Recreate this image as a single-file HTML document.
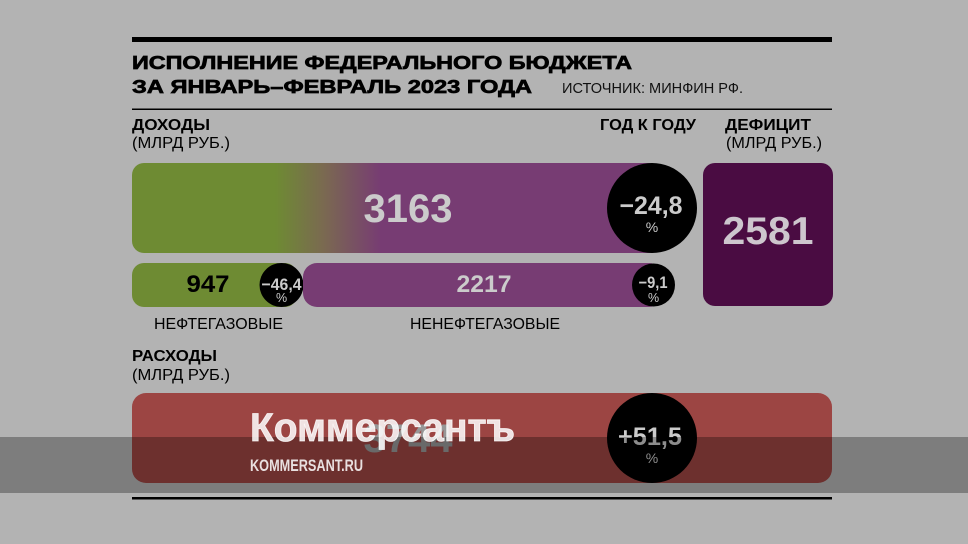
<!DOCTYPE html>
<html><head><meta charset="utf-8"><style>
html,body{margin:0;padding:0;background:#b3b3b3;}
svg{display:block;}
text{font-family:"Liberation Sans","Noto Sans CJK SC",sans-serif;}
</style></head><body>
<svg width="968" height="544" viewBox="0 0 968 544" xmlns="http://www.w3.org/2000/svg">
<defs>
<linearGradient id="g1" x1="132" y1="0" x2="662" y2="0" gradientUnits="userSpaceOnUse">
<stop offset="0" stop-color="#6e8b33"/>
<stop offset="0.27" stop-color="#6e8b33"/>
<stop offset="0.36" stop-color="#7a6a50"/>
<stop offset="0.47" stop-color="#773c73"/>
<stop offset="1" stop-color="#773c73"/>
</linearGradient>
</defs>
<rect x="0" y="0" width="968" height="544" fill="#b3b3b3"/>
<rect x="132" y="37" width="700" height="5" fill="#000"/>
<text x="132" y="69" font-size="18.5" font-weight="bold" fill="#000" stroke="#000" stroke-width="0.7" textLength="500" lengthAdjust="spacingAndGlyphs">ИСПОЛНЕНИЕ ФЕДЕРАЛЬНОГО БЮДЖЕТА</text>
<text x="132" y="93" font-size="18.5" font-weight="bold" fill="#000" stroke="#000" stroke-width="0.7" textLength="400" lengthAdjust="spacingAndGlyphs">ЗА ЯНВАРЬ–ФЕВРАЛЬ 2023 ГОДА</text>
<text x="562" y="93" font-size="14.5" fill="#111" textLength="181" lengthAdjust="spacingAndGlyphs">ИСТОЧНИК:  МИНФИН РФ.</text>
<rect x="132" y="108.5" width="700" height="1.5" fill="#000"/>

<text x="132" y="130" font-size="16" font-weight="bold" fill="#000" textLength="78" lengthAdjust="spacingAndGlyphs">ДОХОДЫ</text>
<text x="132" y="148" font-size="16" fill="#000" textLength="98" lengthAdjust="spacingAndGlyphs">(МЛРД РУБ.)</text>
<text x="600" y="130" font-size="16" font-weight="bold" fill="#000" textLength="96" lengthAdjust="spacingAndGlyphs">ГОД К ГОДУ</text>
<text x="725" y="130" font-size="16" font-weight="bold" fill="#000" textLength="86" lengthAdjust="spacingAndGlyphs">ДЕФИЦИТ</text>
<text x="726" y="148" font-size="16" fill="#000" textLength="96" lengthAdjust="spacingAndGlyphs">(МЛРД РУБ.)</text>

<rect x="132" y="163" width="530" height="90" rx="12" fill="url(#g1)"/>
<text x="408" y="222" font-size="40" font-weight="bold" fill="#cbcbcb" text-anchor="middle">3163</text>
<circle cx="652" cy="208" r="45" fill="#000"/>
<text x="651" y="214" font-size="25" font-weight="bold" fill="#cbcbcb" text-anchor="middle" textLength="63" lengthAdjust="spacingAndGlyphs">−24,8</text>
<text x="652" y="232" font-size="14" fill="#cbcbcb" text-anchor="middle">%</text>

<rect x="703" y="163" width="130" height="143" rx="12" fill="#4a0c42"/>
<text x="768" y="244" font-size="39" font-weight="bold" fill="#cdc6cd" text-anchor="middle" textLength="91" lengthAdjust="spacingAndGlyphs">2581</text>

<rect x="132" y="263" width="165" height="44" rx="12" fill="#6e8b33"/>
<text x="208" y="292" font-size="24" font-weight="bold" fill="#000" text-anchor="middle" textLength="43" lengthAdjust="spacingAndGlyphs">947</text>
<circle cx="281.5" cy="285" r="22" fill="#000"/>
<text x="281.5" y="290" font-size="17" font-weight="bold" fill="#cbcbcb" text-anchor="middle" textLength="40" lengthAdjust="spacingAndGlyphs">−46,4</text>
<text x="281.5" y="302" font-size="12.5" fill="#cbcbcb" text-anchor="middle">%</text>

<rect x="303" y="263" width="360" height="44" rx="14" fill="#773c73"/>
<text x="484" y="292" font-size="24" font-weight="bold" fill="#cbcbcb" text-anchor="middle" textLength="55" lengthAdjust="spacingAndGlyphs">2217</text>
<circle cx="653.5" cy="285" r="21.5" fill="#000"/>
<text x="653" y="288" font-size="16.5" font-weight="bold" fill="#cbcbcb" text-anchor="middle" textLength="29" lengthAdjust="spacingAndGlyphs">−9,1</text>
<text x="653.5" y="302" font-size="12.5" fill="#cbcbcb" text-anchor="middle">%</text>

<text x="154" y="329" font-size="16" fill="#000" textLength="129" lengthAdjust="spacingAndGlyphs">НЕФТЕГАЗОВЫЕ</text>
<text x="410" y="329" font-size="16" fill="#000" textLength="150" lengthAdjust="spacingAndGlyphs">НЕНЕФТЕГАЗОВЫЕ</text>

<text x="132" y="361" font-size="16" font-weight="bold" fill="#000" textLength="85" lengthAdjust="spacingAndGlyphs">РАСХОДЫ</text>
<text x="132" y="380" font-size="16" fill="#000" textLength="98" lengthAdjust="spacingAndGlyphs">(МЛРД РУБ.)</text>

<rect x="132" y="393" width="700" height="90" rx="14" fill="#9c4543"/>
<text x="408" y="452" font-size="40" font-weight="bold" fill="#979797" text-anchor="middle">3744</text>
<circle cx="652" cy="438" r="45" fill="#000"/>
<text x="650" y="445" font-size="25" font-weight="bold" fill="#cbcbcb" text-anchor="middle" textLength="64" lengthAdjust="spacingAndGlyphs">+51,5</text>
<text x="652" y="463" font-size="14" fill="#cbcbcb" text-anchor="middle">%</text>

<rect x="0" y="437" width="968" height="56" fill="rgba(0,0,0,0.3)"/>
<text x="250" y="441" font-size="40" font-weight="bold" fill="#ffffff" fill-opacity="0.85" stroke="#ffffff" stroke-opacity="0.85" stroke-width="0.8" textLength="265" lengthAdjust="spacingAndGlyphs">Коммерсантъ</text>
<text x="250" y="471" font-size="17" font-weight="bold" fill="#ffffff" fill-opacity="0.85" textLength="113" lengthAdjust="spacingAndGlyphs">KOMMERSANT.RU</text>

<rect x="132" y="497" width="700" height="2.5" fill="#000"/>
</svg>
</body></html>
